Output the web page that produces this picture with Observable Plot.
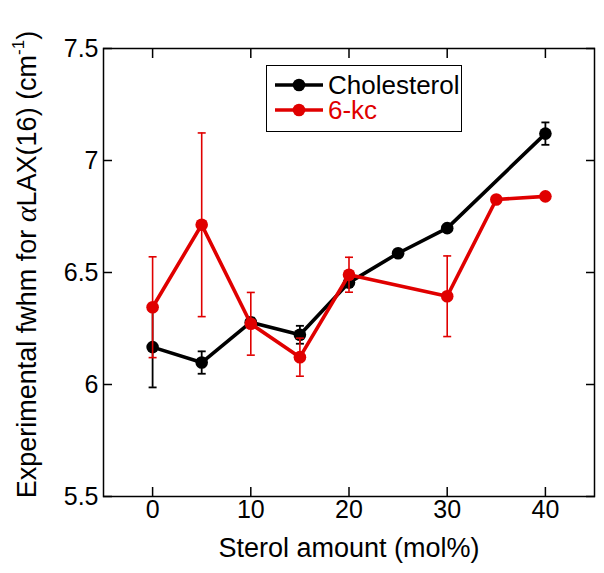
<!DOCTYPE html>
<html><head><meta charset="utf-8">
<script src="https://cdn.jsdelivr.net/npm/d3@7"></script>
<script src="https://cdn.jsdelivr.net/npm/@observablehq/plot@0.6"></script>
<style>
body{margin:0;background:#fff;}
#wrap{position:relative;width:604px;height:573px;font-family:"Liberation Sans",Arial,sans-serif;}
#legend{position:absolute;left:266px;top:65px;width:194px;height:65px;border:1.5px solid #000;background:#fff;}
.row{position:absolute;left:0;height:24px;display:flex;align-items:center;font-size:26px;line-height:24px;}
.row svg{display:block;margin-left:8px;margin-right:5px;}
.row span{display:inline-block;height:24px;line-height:24px;overflow:visible;}
</style></head>
<body><div id="wrap"><div id="legend"></div></div>
<script>
// ---- data ----
const seriesNames = ["Cholesterol", "6-kc"];
const seriesColors = ["#000000", "#e00000"];
const cholX = [0, 5, 10, 15, 20, 25, 30, 40];
const cholY = [6.167, 6.098, 6.278, 6.222, 6.455, 6.586, 6.698, 7.12];
const cholErr = [0.18, 0.05, 0.02, 0.04, 0.02, 0.015, 0.01, 0.05];
const kcX = [0, 5, 10, 15, 20, 30, 35, 40];
const kcY = [6.345, 6.713, 6.271, 6.122, 6.49, 6.394, 6.826, 6.84];
const kcErr = [0.225, 0.41, 0.14, 0.085, 0.078, 0.18, 0, 0];
const xTicks = [0, 10, 20, 30, 40];
const yTicks = [5.5, 6, 6.5, 7, 7.5];
const xTitle = "Sterol amount (mol%)";
const yTitleParts = ["Experimental fwhm for ", "α", "LAX(16) (cm", "-1", ")"];

const chol = cholX.map((x, i) => ({x, y: cholY[i], e: cholErr[i]}));
const kc = kcX.map((x, i) => ({x, y: kcY[i], e: kcErr[i]}));

const cap = {draw(ctx, size) { const r = Math.sqrt(size / Math.PI); ctx.moveTo(-r, 0); ctx.lineTo(r, 0); }};

function series(data, color, lw, ew) {
  const eb = data.filter(d => d.e > 0);
  return [
    Plot.ruleX(eb, {x: "x", y1: d => d.y - d.e, y2: d => d.y + d.e, stroke: color, strokeWidth: ew}),
    Plot.dot(eb, {x: "x", y: d => d.y - d.e, symbol: cap, r: 4, stroke: color, strokeWidth: ew}),
    Plot.dot(eb, {x: "x", y: d => d.y + d.e, symbol: cap, r: 4, stroke: color, strokeWidth: ew}),
    Plot.line(data, {x: "x", y: "y", stroke: color, strokeWidth: lw}),
    Plot.dot(data, {x: "x", y: "y", r: 6.3, fill: color, stroke: "none"})
  ];
}

const fmt = d => String(d);
const yTitleFull = yTitleParts.join("");
const plot = Plot.plot({
  width: 604, height: 573,
  marginLeft: 103, marginRight: 10, marginTop: 48, marginBottom: 77,
  style: {fontFamily: '"Liberation Sans", Arial, sans-serif', background: "transparent", color: "#000"},
  x: {domain: [-5, 45], label: null},
  y: {domain: [5.5, 7.5], label: null},
  marks: [
    ...series(chol, seriesColors[0], 3.6, 1.8),
    ...series(kc, seriesColors[1], 3.6, 1.6),
    Plot.frame({stroke: "#000", strokeWidth: 1.5}),
    Plot.axisX({ticks: xTicks, anchor: "bottom", tickSize: 0, tickPadding: 4, fontSize: 25, tickFormat: fmt, label: null}),
    Plot.axisY({ticks: yTicks, anchor: "left", tickSize: 0, tickPadding: 5, fontSize: 25, tickFormat: fmt, label: null}),
    Plot.axisX({ticks: xTicks, anchor: "bottom", tickSize: -9, strokeWidth: 1.5, fill: "none", label: null}),
    Plot.axisX({ticks: xTicks, anchor: "top", tickSize: -9, strokeWidth: 1.5, fill: "none", label: null}),
    Plot.axisY({ticks: yTicks, anchor: "left", tickSize: -9, strokeWidth: 1.5, fill: "none", label: null}),
    Plot.axisY({ticks: yTicks, anchor: "right", tickSize: -9, strokeWidth: 1.5, fill: "none", label: null}),
    Plot.text([xTitle], {text: d => d, frameAnchor: "bottom", lineAnchor: "middle", textAnchor: "middle", dy: 52, fontSize: 27, fill: "#000"}),
    Plot.text([yTitleFull], {text: d => d, frameAnchor: "left", lineAnchor: "middle", textAnchor: "middle", rotate: -90, dx: -76, dy: -8, fontSize: 27, fill: "#000"})
  ]
});
document.getElementById("wrap").insertBefore(plot, document.getElementById("legend"));

// rich y title: italic alpha and superscript
const yt = d3.select(plot).selectAll("text").filter(function() { return this.textContent === yTitleFull; });
yt.selectAll("*").remove();
yt.text(null);
yt.append("tspan").text(yTitleParts[0]);
yt.append("tspan").attr("font-family", '"Liberation Serif", serif').attr("font-style", "italic").attr("font-size", 30).text(yTitleParts[1]);
yt.append("tspan").text(yTitleParts[2]);
yt.append("tspan").attr("font-size", 17).attr("dy", -12).text(yTitleParts[3]);
yt.append("tspan").attr("dy", 12).text(yTitleParts[4]);

// legend
const lg = document.getElementById("legend");
seriesNames.forEach((name, i) => {
  const row = document.createElement("div");
  row.className = "row";
  row.style.top = (7 + i * 25) + "px";
  row.style.color = seriesColors[i];
  const ns = "http://www.w3.org/2000/svg";
  const s = document.createElementNS(ns, "svg");
  s.setAttribute("width", 48); s.setAttribute("height", 20);
  const l = document.createElementNS(ns, "line");
  l.setAttribute("x1", 0); l.setAttribute("x2", 48); l.setAttribute("y1", 10); l.setAttribute("y2", 10);
  l.setAttribute("stroke", seriesColors[i]); l.setAttribute("stroke-width", 3.6);
  const c = document.createElementNS(ns, "circle");
  c.setAttribute("cx", 24); c.setAttribute("cy", 10); c.setAttribute("r", 6.3); c.setAttribute("fill", seriesColors[i]);
  s.appendChild(l); s.appendChild(c);
  row.appendChild(s);
  const t = document.createElement("span");
  t.textContent = name;
  row.appendChild(t);
  lg.appendChild(row);
});
</script>
</body></html>
